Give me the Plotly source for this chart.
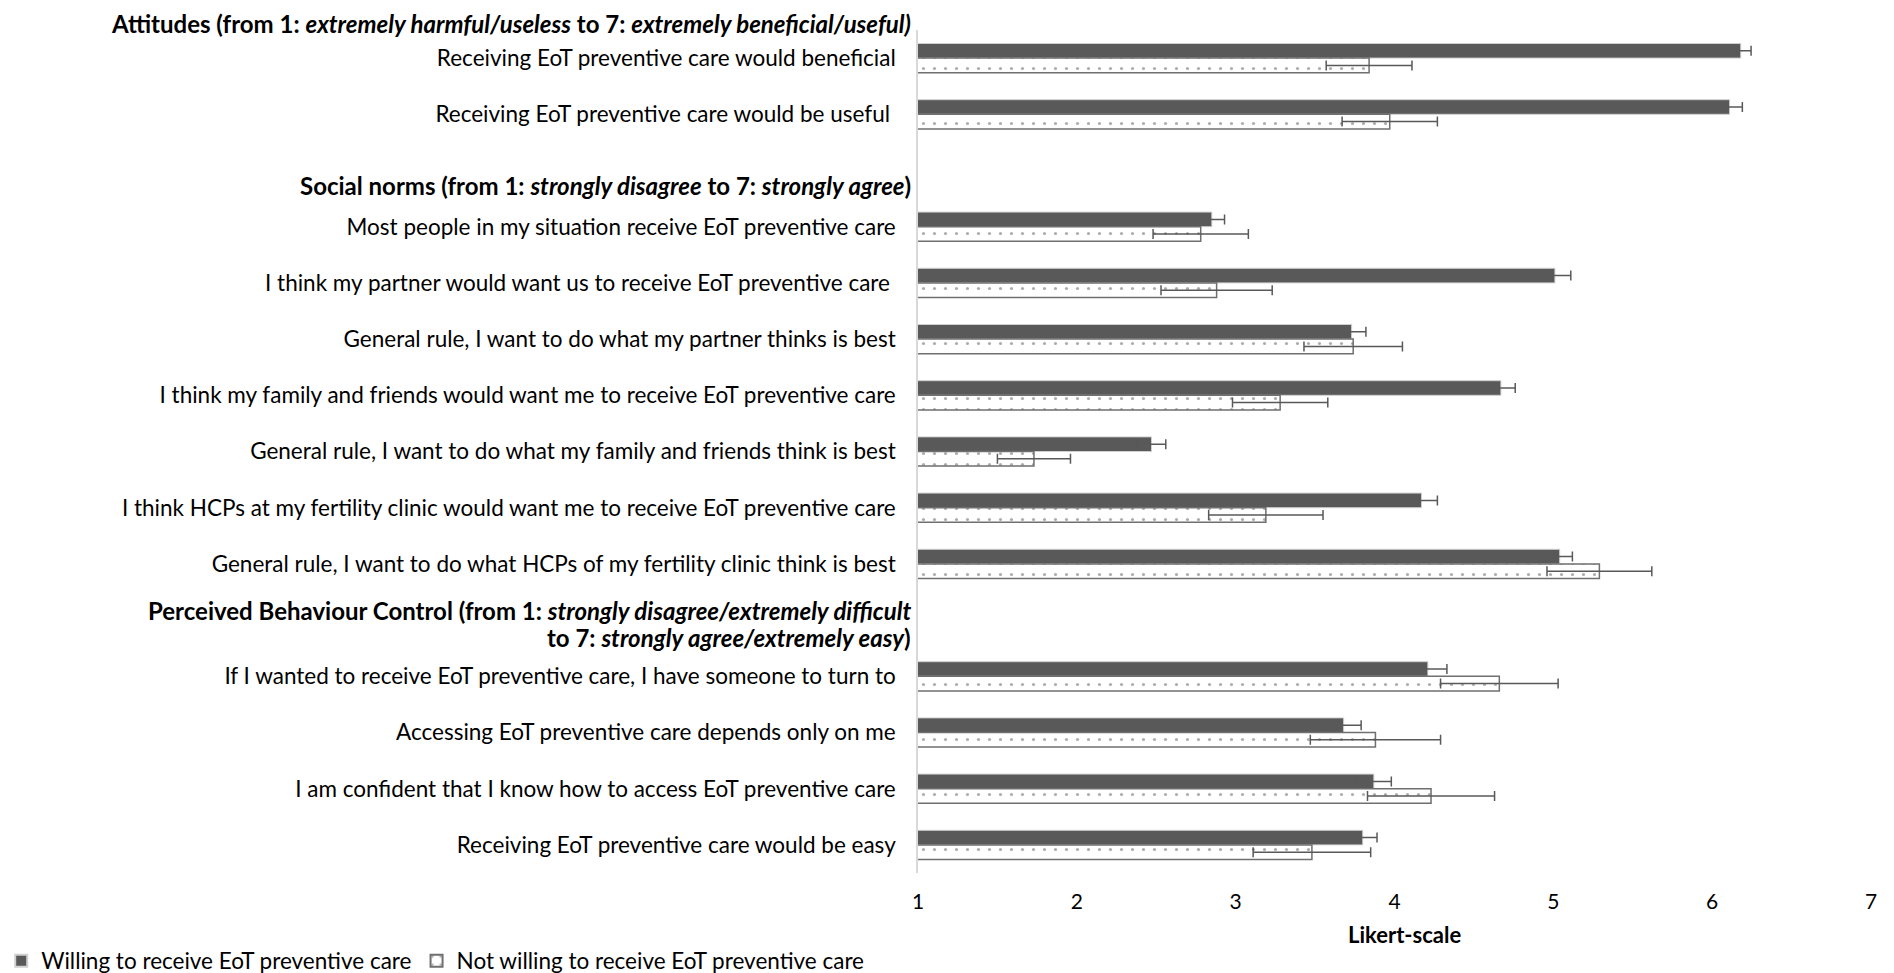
import plotly.graph_objects as go

# ---------------- data ----------------
attitude_items = [
    "Receiving EoT preventive care would beneficial",
    "Receiving EoT preventive care would be useful ",
]
norm_items = [
    "Most people in my situation receive EoT preventive care",
    "I think my partner would want us to receive EoT preventive care ",
    "General rule, I want to do what my partner thinks is best",
    "I think my family and friends would want me to receive EoT preventive care",
    "General rule, I want to do what my family and friends think is best",
    "I think HCPs at my fertility clinic would want me to receive EoT preventive care",
    "General rule, I want to do what HCPs of my fertility clinic think is best",
]
pbc_items = [
    "If I wanted to receive EoT preventive care, I have someone to turn to",
    "Accessing EoT preventive care depends only on me",
    "I am confident that I know how to access EoT preventive care",
    "Receiving EoT preventive care would be easy",
]

willing = [6.18, 6.11, 2.85, 5.01, 3.73, 4.67, 2.47, 4.17, 5.04, 4.21, 3.68, 3.87, 3.80]
willing_err = [0.065, 0.08, 0.08, 0.10, 0.09, 0.09, 0.09, 0.10, 0.08, 0.12, 0.11, 0.11, 0.09]
not_willing = [3.84, 3.97, 2.78, 2.88, 3.74, 3.28, 1.73, 3.19, 5.29, 4.66, 3.88, 4.23, 3.48]
not_willing_err = [0.27, 0.30, 0.30, 0.35, 0.31, 0.30, 0.23, 0.36, 0.33, 0.37, 0.41, 0.40, 0.37]

series_names = ["Willing to receive EoT preventive care", "Not willing to receive EoT preventive care"]

header_attitudes = "<b>Attitudes (from 1: <i>extremely harmful/useless</i> to 7: <i>extremely beneficial/useful)</i></b>"
header_norms = "<b>Social norms (from 1: <i>strongly disagree</i> to 7: <i>strongly agree</i>)</b>"
header_pbc_1 = "<b>Perceived Behaviour Control (from 1: <i>strongly disagree/extremely difficult</i></b>"
header_pbc_2 = "<b>to 7: <i>strongly agree/extremely easy</i>)</b>"

x_ticks = [1, 2, 3, 4, 5, 6, 7]
x_title = "<b>Likert-scale</b>"

# ---------------- build rows (with spacer slots for section headers) ----------------
SP1 = "\u200b"
SP2 = "\u200b\u200b"
items = attitude_items + norm_items + pbc_items
rows = attitude_items + [SP1] + norm_items + [SP2] + pbc_items
n_rows = len(rows)


def expand(vals):
    d = dict(zip(items, vals))
    return [d.get(r, None) for r in rows]


def row_to_paper(idx):
    # reversed category axis spanning [-0.5, n-0.5]
    return 1 - (idx + 0.5) / n_rows


FONT = "Lato"
DARK = "#595959"

fig = go.Figure()
fig.add_trace(go.Bar(
    y=rows, x=expand(willing), orientation="h", name=series_names[0],
    marker=dict(color=DARK, line=dict(color="#d0d0d0", width=1)),
    error_x=dict(type="data", array=expand(willing_err), color=DARK, thickness=1.5, width=5),
))
fig.add_trace(go.Bar(
    y=rows, x=expand(not_willing), orientation="h", name=series_names[1],
    marker=dict(color="white", line=dict(color="#6f6f6f", width=1.5),
                pattern=dict(shape=".", fgcolor=DARK, bgcolor="white", size=11, solidity=0.065)),
    error_x=dict(type="data", array=expand(not_willing_err), color=DARK, thickness=1.5, width=5),
))

annots = [
    (header_attitudes, -0.61),
    (header_norms, 2.27),
    (header_pbc_1, 9.83),
    (header_pbc_2, 10.31),
]
for txt, yy in annots:
    fig.add_annotation(text=txt, xref="paper", x=0, xanchor="right", xshift=-5,
                       yref="paper", y=row_to_paper(yy), yanchor="middle", showarrow=False,
                       align="right", font=dict(family=FONT, size=24, color="#000000"))

# x-axis title (placed as an annotation below the tick labels)
fig.add_annotation(text=x_title, xref="paper", x=0.5, xanchor="center", xshift=10,
                   yref="paper", y=-0.0724, yanchor="middle", showarrow=False,
                   font=dict(family=FONT, size=22, color="#000000"))

fig.update_layout(
    width=1894, height=973,
    margin=dict(l=910, r=31, t=22, b=108, autoexpand=False),
    paper_bgcolor="white", plot_bgcolor="white",
    barmode="group", bargap=0.48, bargroupgap=0.0,
    font=dict(family=FONT, size=22, color="#000000"),
    showlegend=True,
    legend=dict(orientation="h", xref="paper", x=-0.962, xanchor="left",
                yref="container", y=1 - 953 / 973, yanchor="middle",
                font=dict(family=FONT, size=22.5, color="#000000"),
                itemsizing="constant", traceorder="normal", itemwidth=30),
    xaxis=dict(range=[1, 7], tickvals=x_ticks, showgrid=False, zeroline=False, showline=False,
               ticks="", ticklabelstandoff=14, automargin=False,
               tickfont=dict(family=FONT, size=21, color="#000000")),
    yaxis=dict(categoryorder="array", categoryarray=rows, range=[n_rows - 0.5, -0.5],
               showgrid=False, zeroline=False, showline=True, linecolor="#d9d9d9", linewidth=1.5,
               ticks="", ticklabelstandoff=16, automargin=False,
               tickfont=dict(family=FONT, size=22.5, color="#000000")),
)

fig.write_html("out.html")
